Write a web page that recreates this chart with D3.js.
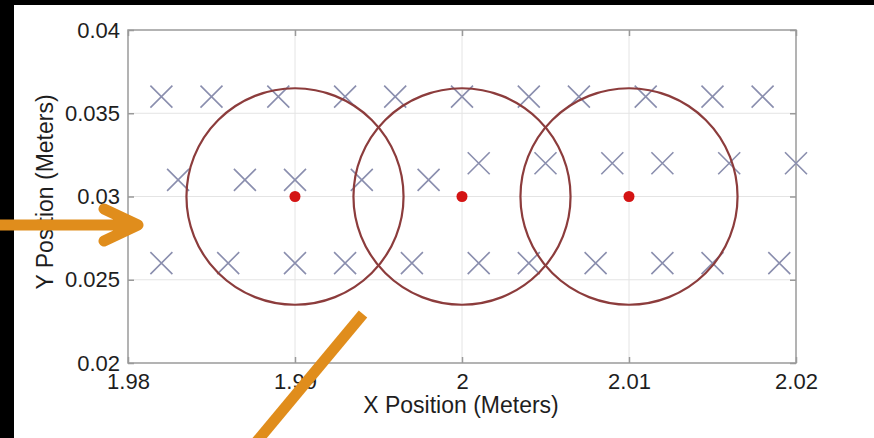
<!DOCTYPE html>
<html><head><meta charset="utf-8">
<script src="https://cdn.jsdelivr.net/npm/d3@7"></script>
<style>html,body{margin:0;padding:0;background:#000;}svg{display:block;}</style>
</head><body>
<svg id="c" width="874" height="438"></svg>
<script>
// Data
const centersX = [1.99, 2.00, 2.01];
const centersY = [0.03, 0.03, 0.03];
const radius = 0.0065;
const row1X = [1.982, 1.985, 1.989, 1.993, 1.996, 2.000, 2.004, 2.007, 2.011, 2.015, 2.018];
const row1Y = [0.036, 0.036, 0.036, 0.036, 0.036, 0.036, 0.036, 0.036, 0.036, 0.036, 0.036];
const row2X = [1.983, 1.987, 1.990, 1.994, 1.998, 2.001, 2.005, 2.009, 2.012, 2.016, 2.020];
const row2Y = [0.031, 0.031, 0.031, 0.031, 0.031, 0.032, 0.032, 0.032, 0.032, 0.032, 0.032];
const row3X = [1.982, 1.986, 1.990, 1.993, 1.997, 2.001, 2.004, 2.008, 2.012, 2.015, 2.019];
const row3Y = [0.026, 0.026, 0.026, 0.026, 0.026, 0.026, 0.026, 0.026, 0.026, 0.026, 0.026];
const xTicks = [1.98, 1.99, 2.00, 2.01, 2.02];
const xTickLabels = ["1.98", "1.99", "2", "2.01", "2.02"];
const yTicks = [0.02, 0.025, 0.03, 0.035, 0.04];
const yTickLabels = ["0.02", "0.025", "0.03", "0.035", "0.04"];

const svg = d3.select("#c");
svg.append("rect").attr("x", 14).attr("y", 5).attr("width", 860).attr("height", 433).attr("fill", "#fff");

const L = 128, R = 796, T = 30, B = 363;
const x = d3.scaleLinear().domain([1.98, 2.02]).range([L, R]);
const y = d3.scaleLinear().domain([0.02, 0.04]).range([B, T]);

const font = "'Liberation Sans', Arial, Helvetica, sans-serif";
const txt = "#1e1e1e";

// grid
const g = svg.append("g");
g.selectAll(".gx").data(xTicks.slice(1, -1)).join("line")
  .attr("x1", d => x(d)).attr("x2", d => x(d)).attr("y1", T).attr("y2", B)
  .attr("stroke", "#e4e4e4").attr("stroke-width", 1);
g.selectAll(".gy").data(yTicks.slice(1, -1)).join("line")
  .attr("y1", d => y(d)).attr("y2", d => y(d)).attr("x1", L).attr("x2", R)
  .attr("stroke", "#e4e4e4").attr("stroke-width", 1);

// frame
svg.append("rect").attr("x", L).attr("y", T).attr("width", R - L).attr("height", B - T)
  .attr("fill", "none").attr("stroke", "#9a9a9a").attr("stroke-width", 1.5);

// axes with inward ticks
const axB = d3.axisBottom(x).tickValues(xTicks).tickFormat((d, i) => xTickLabels[i]).tickSize(-6).tickPadding(10);
const axL = d3.axisLeft(y).tickValues(yTicks).tickFormat((d, i) => yTickLabels[i]).tickSize(-6).tickPadding(8);
const axT = d3.axisTop(x).tickValues(xTicks).tickFormat("").tickSize(-6);
const axR = d3.axisRight(y).tickValues(yTicks).tickFormat("").tickSize(-6);
function style(sel) {
  sel.select(".domain").remove();
  sel.selectAll(".tick line").attr("stroke", "#9a9a9a").attr("stroke-width", 1.5);
  sel.selectAll(".tick text").attr("fill", txt).attr("font-family", font).attr("font-size", 22);
}
svg.append("g").attr("transform", `translate(0,${B})`).call(axB).call(style);
svg.append("g").attr("transform", `translate(${L},0)`).call(axL).call(style);
svg.append("g").attr("transform", `translate(0,${T})`).call(axT).call(style);
svg.append("g").attr("transform", `translate(${R},0)`).call(axR).call(style);

// axis labels
svg.append("text").attr("x", 461).attr("y", 413).attr("text-anchor", "middle")
  .attr("font-family", font).attr("font-size", 23).attr("fill", txt).text("X Position (Meters)");
svg.append("text").attr("transform", "translate(53,192) rotate(-90)").attr("text-anchor", "middle")
  .attr("font-family", font).attr("font-size", 23).attr("fill", txt).text("Y Position (Meters)");

// x markers
const pts = [];
[[row1X, row1Y], [row2X, row2Y], [row3X, row3Y]].forEach(([xs, ys]) => xs.forEach((v, i) => pts.push([v, ys[i]])));
const s = 11;
const mk = svg.append("g").attr("stroke", "#8a8eae").attr("stroke-width", 1.6).attr("fill", "none");
mk.selectAll("path").data(pts).join("path")
  .attr("d", d => { const cx = x(d[0]), cy = y(d[1]); return `M${cx - s},${cy - s}L${cx + s},${cy + s}M${cx - s},${cy + s}L${cx + s},${cy - s}`; });

// circles
const px = Math.abs(x(radius) - x(0));
const py = Math.abs(y(0) - y(radius));
svg.append("g").selectAll("ellipse").data(centersX).join("ellipse")
  .attr("cx", d => x(d)).attr("cy", (d, i) => y(centersY[i]))
  .attr("rx", px).attr("ry", py)
  .attr("fill", "none").attr("stroke", "#8c3c3c").attr("stroke-width", 2.2);

// center dots
svg.append("g").selectAll("circle").data(centersX).join("circle")
  .attr("cx", d => x(d)).attr("cy", (d, i) => y(centersY[i])).attr("r", 5.5).attr("fill", "#d41414");

// orange annotation overlays
const orange = "#e08d1c";
svg.append("path").attr("d", "M0,225L136,225M104,209L138,225L104,241")
  .attr("stroke", orange).attr("stroke-width", 11).attr("fill", "none")
  .attr("stroke-linecap", "round").attr("stroke-linejoin", "round");
svg.append("path").attr("d", "M363,314L248,452")
  .attr("stroke", orange).attr("stroke-width", 11).attr("fill", "none");
</script>
</body></html>
